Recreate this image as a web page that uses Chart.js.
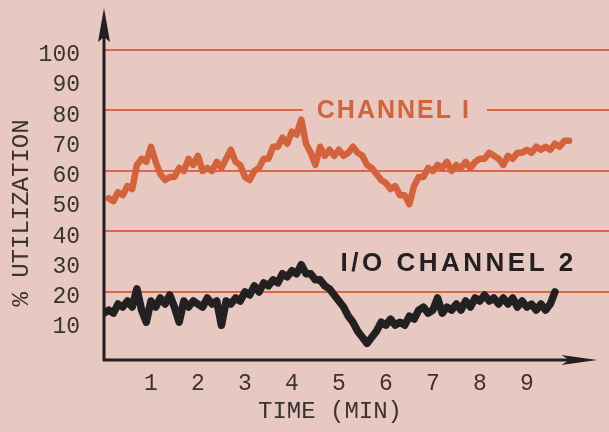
<!DOCTYPE html>
<html><head><meta charset="utf-8">
<script src="https://cdn.jsdelivr.net/npm/chart.js@4/dist/chart.umd.min.js"></script>
<style>html,body{margin:0;padding:0;background:#E7C9C2;}canvas{display:block}</style>
</head><body>
<canvas id="c" width="609" height="432"></canvas>
<script>
// ---- data ----
const minutes = [0.0,0.1,0.2,0.3,0.4,0.5,0.6,0.7,0.8,0.9,
  1.0,1.1,1.2,1.3,1.4,1.5,1.6,1.7,1.8,1.9,
  2.0,2.1,2.2,2.3,2.4,2.5,2.6,2.7,2.8,2.9,
  3.0,3.1,3.2,3.3,3.4,3.5,3.6,3.7,3.8,3.9,
  4.0,4.1,4.2,4.3,4.4,4.5,4.6,4.7,4.8,4.9,
  5.0,5.1,5.2,5.3,5.4,5.5,5.6,5.7,5.8,5.9,
  6.0,6.1,6.2,6.3,6.4,6.5,6.6,6.7,6.8,6.9,
  7.0,7.1,7.2,7.3,7.4,7.5,7.6,7.7,7.8,7.9,
  8.0,8.1,8.2,8.3,8.4,8.5,8.6,8.7,8.8,8.9,
  9.0,9.1,9.2,9.3,9.4,9.5,9.6,9.7,9.8,9.9];
const channel1 = [null,51,50,53,52,55,54,62,64,63,
  68,63,59,57,58,58,61,60,64,62,
  65,60,61,60,63,61,64,67,63,62,
  58,57,60,61,64,64,68,68,71,69,
  73,72,77,69,66,62,68,65,67,65,
  67,65,66,68,66,65,62,61,59,57,
  56,54,55,52,52,49,55,58,58,61,
  60,62,61,63,60,62,61,63,61,63,
  64,64,66,65,64,62,65,64,66,66,
  67,66,68,67,68,67,69,68,70,70];
const channel2 = [13,14,13,16,15,17,15,21,14,10,
  17,15,18,16,19,15,10,17,15,17,
  16,15,18,16,17,9,17,16,18,17,
  20,19,22,20,23,22,24,23,26,25,
  27,26,29,26,26,24,24,22,21,19,
  17,15,12,10,7,5,3,5,7,10,
  9,11,9,10,9,12,11,14,15,13,
  14,18,13,15,14,16,14,17,15,18,
  17,19,17,18,16,18,16,18,15,17,
  15,16,14,16,14,16,20,null,null,null];
const seriesNames = ['CHANNEL I', 'I/O CHANNEL 2'];
const yTickValues = [10,20,30,40,50,60,70,80,90,100];
const xTickValues = [1,2,3,4,5,6,7,8,9];
const gridValues = [20,40,60,80,100];
const xTitle = 'TIME (MIN)';
const yTitle = '% UTILIZATION';

// ---- style ----
const BG = '#E7C9C2';
const ORANGE = '#D4623A';
const GRID = '#D9684A';
const INK = '#222020';
const TEXT = '#3a3330';
const MONO = '"Liberation Mono", "DejaVu Sans Mono", monospace';

const decor = {
  id: 'decor',
  beforeDraw(chart) {
    const {ctx, width, height} = chart;
    ctx.save(); ctx.fillStyle = BG; ctx.fillRect(0, 0, width, height); ctx.restore();
  },
  beforeDatasetsDraw(chart) {
    const {ctx} = chart; const xs = chart.scales.x, ys = chart.scales.y;
    ctx.save();
    ctx.font = 'bold 25px "Liberation Sans", Arial, sans-serif';
    ctx.letterSpacing = '2px';
    const w = ctx.measureText(seriesNames[0]).width;
    const cx = xs.getPixelForValue(6.17), cy = ys.getPixelForValue(80);
    ctx.fillStyle = BG;
    ctx.fillRect(cx - w / 2 - 14, cy - 4, w + 30, 8);
    ctx.restore();
  },
  afterDatasetsDraw(chart) {
    const {ctx, chartArea} = chart; const xs = chart.scales.x, ys = chart.scales.y;
    const L = chartArea.left, B = chartArea.bottom, T = chartArea.top;
    ctx.save();
    ctx.strokeStyle = INK; ctx.fillStyle = INK; ctx.lineWidth = 3; ctx.lineCap = 'butt';
    ctx.beginPath(); ctx.moveTo(L, B + 1); ctx.lineTo(L, T + 24); ctx.stroke();
    ctx.beginPath(); ctx.moveTo(L, T - 2); ctx.lineTo(L - 6, T + 32); ctx.lineTo(L, T + 27); ctx.lineTo(L + 6, T + 32); ctx.closePath(); ctx.fill();
    const xe = xs.getPixelForValue(10.5);
    ctx.beginPath(); ctx.moveTo(L - 1, B); ctx.lineTo(xe - 20, B); ctx.stroke();
    ctx.beginPath(); ctx.moveTo(xe, B); ctx.lineTo(xe - 36, B - 5); ctx.lineTo(xe - 28, B); ctx.lineTo(xe - 36, B + 5); ctx.closePath(); ctx.fill();

    ctx.textAlign = 'center'; ctx.textBaseline = 'middle';
    ctx.font = 'bold 25px "Liberation Sans", Arial, sans-serif';
    ctx.letterSpacing = '2px';
    ctx.fillStyle = ORANGE;
    ctx.fillText(seriesNames[0], xs.getPixelForValue(6.17), ys.getPixelForValue(80) + 1);
    ctx.font = 'bold 26px "Liberation Sans", Arial, sans-serif';
    ctx.letterSpacing = '3.5px';
    ctx.fillStyle = INK;
    ctx.fillText(seriesNames[1], xs.getPixelForValue(7.55), ys.getPixelForValue(29.2));

    ctx.letterSpacing = '0px';
    ctx.fillStyle = TEXT;
    ctx.font = '24px ' + MONO;
    ctx.fillText(xTitle, 330, 412);
    ctx.translate(22, 213); ctx.rotate(-Math.PI / 2);
    ctx.fillText(yTitle, 0, 0);
    ctx.restore();
  }
};

new Chart(document.getElementById('c'), {
  type: 'line',
  data: {
    datasets: [
      { label: seriesNames[0], data: minutes.map((m, i) => ({x: m, y: channel1[i]})),
        borderColor: ORANGE, borderWidth: 6.5, pointRadius: 0, tension: 0, borderJoinStyle: 'round', borderCapStyle: 'round' },
      { label: seriesNames[1], data: minutes.map((m, i) => ({x: m, y: channel2[i]})),
        borderColor: INK, borderWidth: 7.5, pointRadius: 0, tension: 0, borderJoinStyle: 'round', borderCapStyle: 'round' }
    ]
  },
  options: {
    responsive: false, animation: false,
    layout: { padding: { top: 10, left: 0, right: 0, bottom: 0 } },
    plugins: { legend: { display: false }, tooltip: { enabled: false } },
    scales: {
      x: {
        type: 'linear', min: 0, max: 10.75,
        afterBuildTicks: s => { s.ticks = xTickValues.map(v => ({value: v})); },
        afterFit: s => { s.height = 72; s.paddingLeft = 0; s.paddingRight = 0; },
        grid: { display: false, drawTicks: false },
        border: { display: false },
        ticks: { color: TEXT, font: { family: MONO, size: 23 }, padding: 10, maxRotation: 0, autoSkip: false }
      },
      y: {
        type: 'linear', min: -2.5, max: 113.2,
        afterBuildTicks: s => { s.ticks = yTickValues.map(v => ({value: v})); },
        afterFit: s => { s.width = 104; s.paddingTop = 0; s.paddingBottom = 0; },
        grid: { drawTicks: false, lineWidth: 2,
          color: c => gridValues.includes(c.tick && c.tick.value) ? GRID : 'rgba(0,0,0,0)' },
        border: { display: false },
        ticks: { color: TEXT, font: { family: MONO, size: 23 }, padding: 24, labelOffset: 5, autoSkip: false }
      }
    }
  },
  plugins: [decor]
});
</script>
</body></html>
